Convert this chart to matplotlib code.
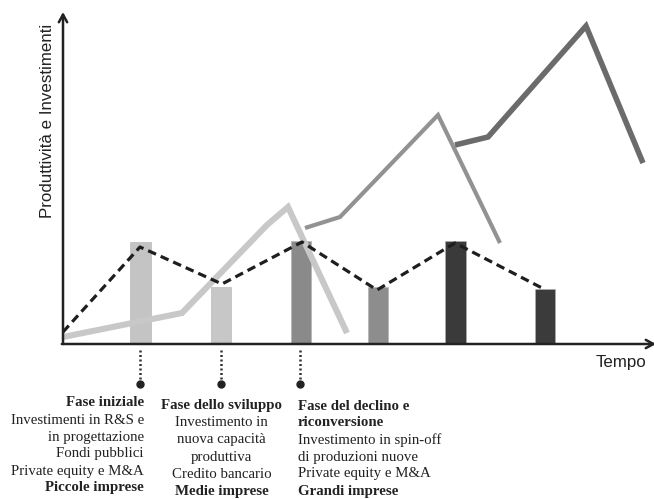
import matplotlib
matplotlib.use("Agg")
import matplotlib.pyplot as plt

# ---- data (schematic units) ----
bar_x = [77.5, 158, 238, 315, 392.5, 482]
bar_h = [102, 57, 103, 57, 103, 55]
bar_colors = ["#c4c4c4", "#c7c7c7", "#8a8a8a", "#8d8d8d", "#3a3a3a", "#3b3b3b"]

dash_x = [0, 77, 159, 239, 314, 392, 479]
dash_y = [12, 97, 60, 102, 54, 101, 56]

light_x = [0, 119, 204, 225, 284]
light_y = [7, 31, 119, 137, 11]

mid_x = [242, 277, 375, 437]
mid_y = [116, 127, 229, 101]

dark_x = [392, 425, 523, 580]
dark_y = [199, 207, 318, 181]

marker_x = [77, 158, 237]

block1 = [("Fase iniziale", True), ("Investimenti in R&S e", False),
          ("in progettazione", False), ("Fondi pubblici", False),
          ("Private equity e M&A", False), ("Piccole imprese", True)]
block2 = [("Fase dello sviluppo", True), ("Investimento in", False),
          ("nuova capacità", False), ("produttiva", False),
          ("Credito bancario", False), ("Medie imprese", True)]
block3 = [("Fase del declino e", True), ("riconversione", True),
          ("Investimento in spin-off", False), ("di produzioni nuove", False),
          ("Private equity e M&A", False), ("Grandi imprese", True)]

W, H = 654, 499
fig = plt.figure(figsize=(W / 100, H / 100), dpi=100)
x0, y0, x1, y1 = 63, 344, 656, 12
ax = fig.add_axes([x0 / W, (H - y0) / H, (x1 - x0) / W, (y0 - y1) / H])
ax.set_xlim(0, x1 - x0)
ax.set_ylim(0, y0 - y1)
for s in ax.spines.values():
    s.set_visible(False)
ax.set_xticks([])
ax.set_yticks([])
ax.patch.set_alpha(0)

# bars
ax.bar(bar_x, bar_h, width=20.5, color=bar_colors, edgecolor="#b0b0b0",
       linewidth=0.4, zorder=2)

# lines
ax.plot(light_x, light_y, color="#c8c8c8", lw=4.4, solid_joinstyle="miter",
        solid_capstyle="butt", zorder=3)
ax.plot(mid_x, mid_y, color="#929292", lw=3.0, solid_joinstyle="miter",
        solid_capstyle="butt", zorder=3)
ax.plot(dark_x, dark_y, color="#6b6b6b", lw=4.0, solid_joinstyle="miter",
        solid_capstyle="butt", zorder=3)
ax.plot(dash_x, dash_y, color="#1e1e1e", lw=2.3, linestyle=(0, (2.7, 1.6)),
        zorder=4)

# axes with arrows
arrow = dict(arrowstyle="->,head_length=0.55,head_width=0.3", lw=1.8,
             color="#222222", shrinkA=0, shrinkB=0)
ax.annotate("", xy=(0, 1), xytext=(0, 0), xycoords="axes fraction",
            textcoords="axes fraction", arrowprops=arrow, zorder=5)
ax.annotate("", xy=(1, 0), xytext=(-0.002, 0), xycoords="axes fraction",
            textcoords="axes fraction", arrowprops=arrow, zorder=5)

# dotted connectors
for mx in marker_x:
    ax.plot([mx, mx], [-6, -36], color="#333333", lw=1.8,
            linestyle=(0, (0.8, 1.0)), clip_on=False)
    ax.plot([mx], [-40], marker="o", ms=5, color="#222222", clip_on=False)

# axis labels
fig.text(48 / W, 1 - 121 / H, "Produttività e Investimenti", rotation=90,
         ha="center", va="center", fontsize=12.2, family="Liberation Sans",
         color="#222222")
fig.text(646 / W, 1 - 363 / H, "Tempo", ha="right", va="center",
         fontsize=12.2, family="Liberation Sans", color="#222222")

# text blocks
def block(lines, xpx, ha, ystart):
    for i, (t, b) in enumerate(lines):
        fig.text(xpx / W, 1 - (ystart + i * 17.0) / H, t, ha=ha, va="center",
                 fontsize=10.7, family="Liberation Serif",
                 fontweight="bold" if b else "normal", color="#222222")

block(block1, 144, "right", 403)
block(block2, 221.5, "center", 406)
block(block3, 298, "left", 406)

fig.savefig("out.png", dpi=100)
